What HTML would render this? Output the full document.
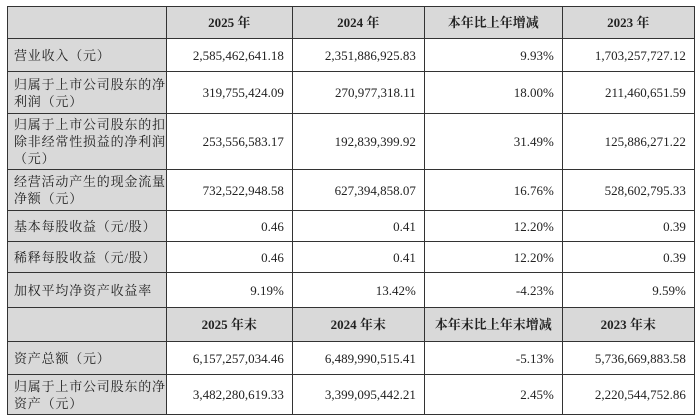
<!DOCTYPE html>
<html><head><meta charset="utf-8"><style>
body{margin:0;background:#fff;width:700px;height:420px;overflow:hidden}
table{position:absolute;left:7px;top:6px;border-collapse:collapse;table-layout:fixed;font-family:"Liberation Serif","Noto Serif CJK SC",serif;font-size:13px;color:#222}
td{border:1.5px solid #333;padding:0 8px;text-align:right;line-height:17px;vertical-align:middle}
td.l{background:#d9d9d9;text-align:left;padding:0 0 0 6px;letter-spacing:0.8px;white-space:nowrap;overflow:hidden}
tr.h td{background:#d9d9d9;text-align:center;font-weight:bold}
</style></head><body>
<table>
<colgroup><col style="width:158px"><col style="width:126px"><col style="width:132px"><col style="width:138px"><col style="width:132px"></colgroup>
<tr class="h" style="height:32px"><td></td><td>2025 年</td><td>2024 年</td><td>本年比上年增减</td><td>2023 年</td></tr>
<tr style="height:33px"><td class="l">营业收入（元）</td><td>2,585,462,641.18</td><td>2,351,886,925.83</td><td>9.93%</td><td>1,703,257,727.12</td></tr>
<tr style="height:42px"><td class="l">归属于上市公司股东的净<br>利润（元）</td><td>319,755,424.09</td><td>270,977,318.11</td><td>18.00%</td><td>211,460,651.59</td></tr>
<tr style="height:56px"><td class="l">归属于上市公司股东的扣<br>除非经常性损益的净利润<br>（元）</td><td>253,556,583.17</td><td>192,839,399.92</td><td>31.49%</td><td>125,886,271.22</td></tr>
<tr style="height:41px"><td class="l">经营活动产生的现金流量<br>净额（元）</td><td>732,522,948.58</td><td>627,394,858.07</td><td>16.76%</td><td>528,602,795.33</td></tr>
<tr style="height:31px"><td class="l">基本每股收益（元/股）</td><td>0.46</td><td>0.41</td><td>12.20%</td><td>0.39</td></tr>
<tr style="height:31px"><td class="l">稀释每股收益（元/股）</td><td>0.46</td><td>0.41</td><td>12.20%</td><td>0.39</td></tr>
<tr style="height:35px"><td class="l">加权平均净资产收益率</td><td>9.19%</td><td>13.42%</td><td>-4.23%</td><td>9.59%</td></tr>
<tr class="h" style="height:34px"><td></td><td>2025 年末</td><td>2024 年末</td><td>本年末比上年末增减</td><td>2023 年末</td></tr>
<tr style="height:33px"><td class="l">资产总额（元）</td><td>6,157,257,034.46</td><td>6,489,990,515.41</td><td>-5.13%</td><td>5,736,669,883.58</td></tr>
<tr style="height:40px"><td class="l">归属于上市公司股东的净<br>资产（元）</td><td>3,482,280,619.33</td><td>3,399,095,442.21</td><td>2.45%</td><td>2,220,544,752.86</td></tr>
</table>
</body></html>
